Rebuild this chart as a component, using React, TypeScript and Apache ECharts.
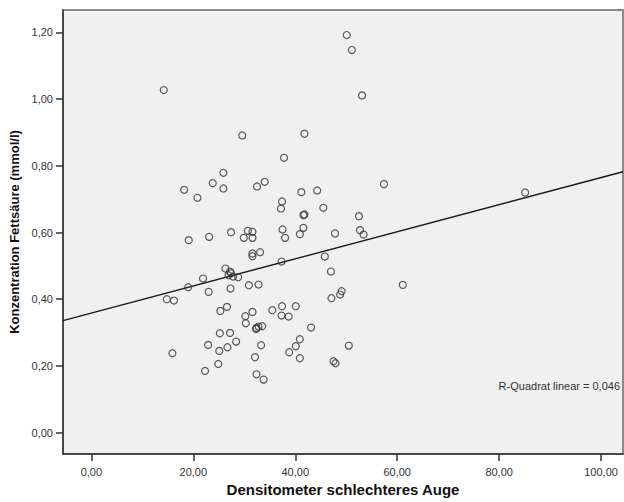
import React, { useEffect, useRef } from "react";
import * as echarts from "echarts";

const densitometer: number[] = [
  50.1, 51.1, 53.1, 14.2, 29.6, 41.8, 37.8, 25.9, 23.8, 18.2,
  20.8, 25.9, 32.5, 34.0, 41.2, 44.3, 37.4, 37.2, 41.6, 41.8,
  45.5, 19.1, 23.1, 27.4, 30.7, 31.6, 29.9, 31.6, 37.5, 38.0,
  41.6, 40.9, 33.1, 57.4, 52.5, 47.8, 52.7, 53.4, 85.1, 31.6,
  31.6, 37.3, 26.3, 27.2, 27.4, 26.9, 27.8, 28.8, 21.9, 19.0,
  23.0, 27.3, 30.9, 32.8, 14.8, 16.2, 25.3, 26.6, 30.2, 31.6,
  30.3, 35.5, 37.4, 40.1, 37.3, 38.7, 32.4, 32.3, 32.8, 33.5,
  43.1, 25.2, 27.2, 28.4, 22.9, 25.1, 26.7, 33.3, 32.1, 15.9,
  24.9, 22.3, 32.4, 33.8, 40.9, 40.1, 38.8, 40.9, 45.8, 47.0,
  49.1, 48.8, 47.1, 61.1, 50.5, 47.5, 47.9,
];

const fettsaeure: number[] = [
  1.192, 1.147, 1.011, 1.027, 0.891, 0.896, 0.824, 0.779, 0.748, 0.728,
  0.704, 0.732, 0.738, 0.752, 0.721, 0.726, 0.693, 0.672, 0.652, 0.654,
  0.674, 0.577, 0.587, 0.601, 0.605, 0.602, 0.584, 0.584, 0.609, 0.584,
  0.614, 0.595, 0.541, 0.745, 0.649, 0.597, 0.607, 0.594, 0.720, 0.537,
  0.529, 0.513, 0.492, 0.483, 0.478, 0.472, 0.468, 0.466, 0.462, 0.436,
  0.422, 0.432, 0.442, 0.444, 0.400, 0.396, 0.365, 0.377, 0.349, 0.362,
  0.328, 0.367, 0.379, 0.379, 0.351, 0.348, 0.314, 0.311, 0.318, 0.319,
  0.315, 0.298, 0.299, 0.273, 0.263, 0.245, 0.256, 0.262, 0.226, 0.238,
  0.206, 0.185, 0.175, 0.159, 0.280, 0.259, 0.241, 0.223, 0.528, 0.483,
  0.424, 0.414, 0.403, 0.443, 0.261, 0.214, 0.208,
];

// Fit line endpoints (at the plot's left and right edges)
const fitLineX: number[] = [-5.57, 104.3];
const fitLineY: number[] = [0.336, 0.782];

const xTicks: number[] = [0, 20, 40, 60, 80, 100];
const yTicks: number[] = [0, 0.2, 0.4, 0.6, 0.8, 1.0, 1.2];

const xTitle = "Densitometer schlechteres Auge";
const yTitle = "Konzentration Fettsäure (mmol/l)";
const rSquaredLabel = "R-Quadrat linear = 0,046";

const fmt = (v: number) => v.toFixed(2).replace(".", ",");

export default function App() {
  const ref = useRef<HTMLDivElement>(null);

  useEffect(() => {
    if (!ref.current) return;
    const chart = echarts.init(ref.current, null, { renderer: "svg" });
    const font = "'Liberation Sans', Arial, sans-serif";
    chart.setOption({
      animation: false,
      backgroundColor: "#ffffff",
      textStyle: { fontFamily: font },
      grid: {
        left: 63,
        top: 10,
        right: 1,
        bottom: 48,
        show: true,
        backgroundColor: "#f0f0f0",
        borderColor: "#8a8a8a",
        borderWidth: 2,
        outerBoundsMode: "none",
        containLabel: false,
      },
      xAxis: {
        type: "value",
        min: -5.57,
        max: 104.3,
        name: xTitle,
        nameLocation: "middle",
        nameGap: 28,
        nameTextStyle: { fontSize: 15, fontWeight: "bold", color: "#111", fontFamily: font },
        axisLine: { show: true, onZero: false, lineStyle: { color: "#333", width: 1.5 } },
        axisTick: { show: true, length: 7, customValues: xTicks, lineStyle: { color: "#333", width: 1.5 } },
        axisLabel: {
          customValues: xTicks,
          formatter: (v: number) => fmt(v),
          margin: 12,
          fontSize: 11,
          color: "#333",
          fontFamily: font,
        },
        splitLine: { show: false },
      },
      yAxis: {
        type: "value",
        min: -0.064,
        max: 1.267,
        name: yTitle,
        nameLocation: "middle",
        nameGap: 36,
        nameRotate: 90,
        nameTextStyle: { fontSize: 13, fontWeight: "bold", color: "#111", fontFamily: font },
        axisLine: { show: true, onZero: false, lineStyle: { color: "#333", width: 1.5 } },
        axisTick: { show: true, length: 7, customValues: yTicks, lineStyle: { color: "#333", width: 1.5 } },
        axisLabel: {
          customValues: yTicks,
          formatter: (v: number) => fmt(v),
          margin: 10,
          fontSize: 11,
          color: "#333",
          fontFamily: font,
        },
        splitLine: { show: false },
      },
      series: [
        {
          type: "line",
          data: fitLineX.map((x, i) => [x, fitLineY[i]]),
          symbol: "none",
          lineStyle: { color: "#1a1a1a", width: 1.4 },
          silent: true,
          z: 3,
        },
        {
          type: "scatter",
          data: densitometer.map((x, i) => [x, fettsaeure[i]]),
          symbol: "circle",
          symbolSize: 7,
          itemStyle: { color: "rgba(0,0,0,0)", borderColor: "#333", borderWidth: 1.2 },
          z: 4,
        },
      ],
      graphic: [
        {
          type: "text",
          right: 4,
          top: 380,
          style: {
            text: rSquaredLabel,
            fontSize: 11,
            fill: "#333",
            fontFamily: font,
          },
        },
      ],
    });
    return () => chart.dispose();
  }, []);

  return (
    <div
      ref={ref}
      style={{ position: "fixed", left: 0, top: 0, width: 624, height: 502 }}
    />
  );
}
